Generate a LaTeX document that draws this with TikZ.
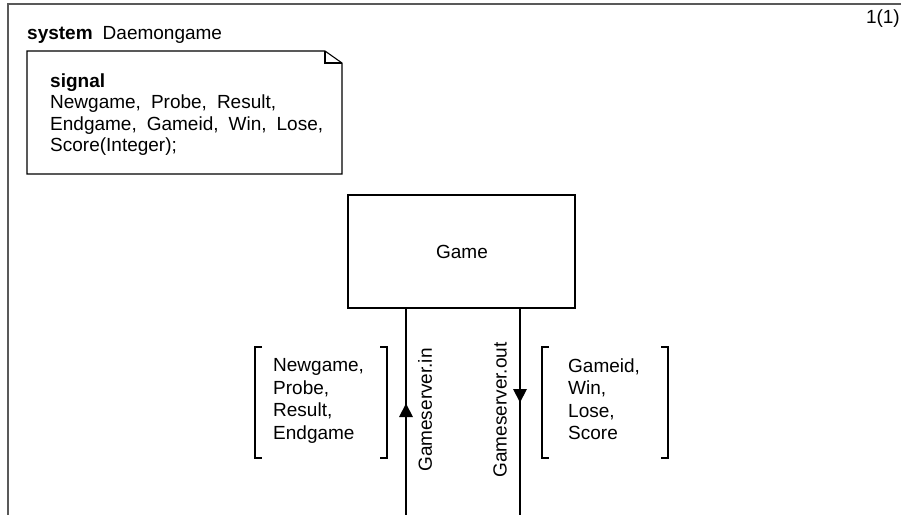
\documentclass[tikz,border=0pt]{standalone}
\usepackage{fontspec}
\setmainfont{Liberation Sans}[WordSpace=1.9]
\begin{document}
\begin{tikzpicture}[x=1pt,y=-1pt,
  txt/.style={font=\fontsize{19}{22.5}\selectfont, inner sep=0pt, align=left},
  frameline/.style={draw=black!65, line width=1.6pt},
  thin/.style={draw=black, line width=1.1pt},
  channel/.style={draw=black, line width=1.8pt},
  brk/.style={draw=black, line width=1.8pt},
  tip/.style={fill=black, draw=none}]
\useasboundingbox (0,0) rectangle (906,515);
% frame
\draw[frameline] (901,4) -- (8,4) -- (8,515);
\node[txt, anchor=base east] (page) at (900,23) {1(1)};
\node[txt, anchor=base west] (sys) at (27,39) {\textbf{system} Daemongame};
% note
\draw[thin] (27,51) -- (325,51) -- (342,63) -- (342,174) -- (27,174) -- cycle;
\draw[thin] (325,51) -- (325,63) -- (342,63);
\node[txt, anchor=north west, font=\fontsize{19}{21.5}\selectfont] (sig) at (50,73.5)
  {\textbf{signal}\\Newgame, Probe, Result,\\Endgame, Gameid, Win, Lose,\\Score(Integer);};
% block
\node[thin, minimum width=227pt, minimum height=113pt, inner sep=0pt] (game) at (461.5,251.5) {};
\node[txt, anchor=base] (gamelbl) at (462,258) {Game};
% channels
\coordinate (inend) at (406,515);
\coordinate (outend) at (520,515);
\draw[channel] (game.south -| inend) -- (inend);
\draw[channel] (game.south -| outend) -- (outend);
\fill[tip] (406,403.5) -- (399,417) -- (413,417) -- cycle;
\fill[tip] (520,402.5) -- (513,389) -- (527,389) -- cycle;
\node[txt, rotate=90] (inlbl) at (425,410) {Gameserver.in};
\node[txt, rotate=90] (outlbl) at (500,410) {Gameserver.out};
% signal lists
\node[txt, anchor=north west] (inlist) at (273,358.5) {Newgame,\\Probe,\\Result,\\Endgame};
\draw[brk] (262,347) -- (255,347) -- (255,458) -- (262,458);
\draw[brk] (380,347) -- (387,347) -- (387,458) -- (380,458);
\node[txt, anchor=north west] (outlist) at (568,358.5) {Gameid,\\Win,\\Lose,\\Score};
\draw[brk] (549,347) -- (542,347) -- (542,458) -- (549,458);
\draw[brk] (661,347) -- (668,347) -- (668,458) -- (661,458);
\end{tikzpicture}
\end{document}
